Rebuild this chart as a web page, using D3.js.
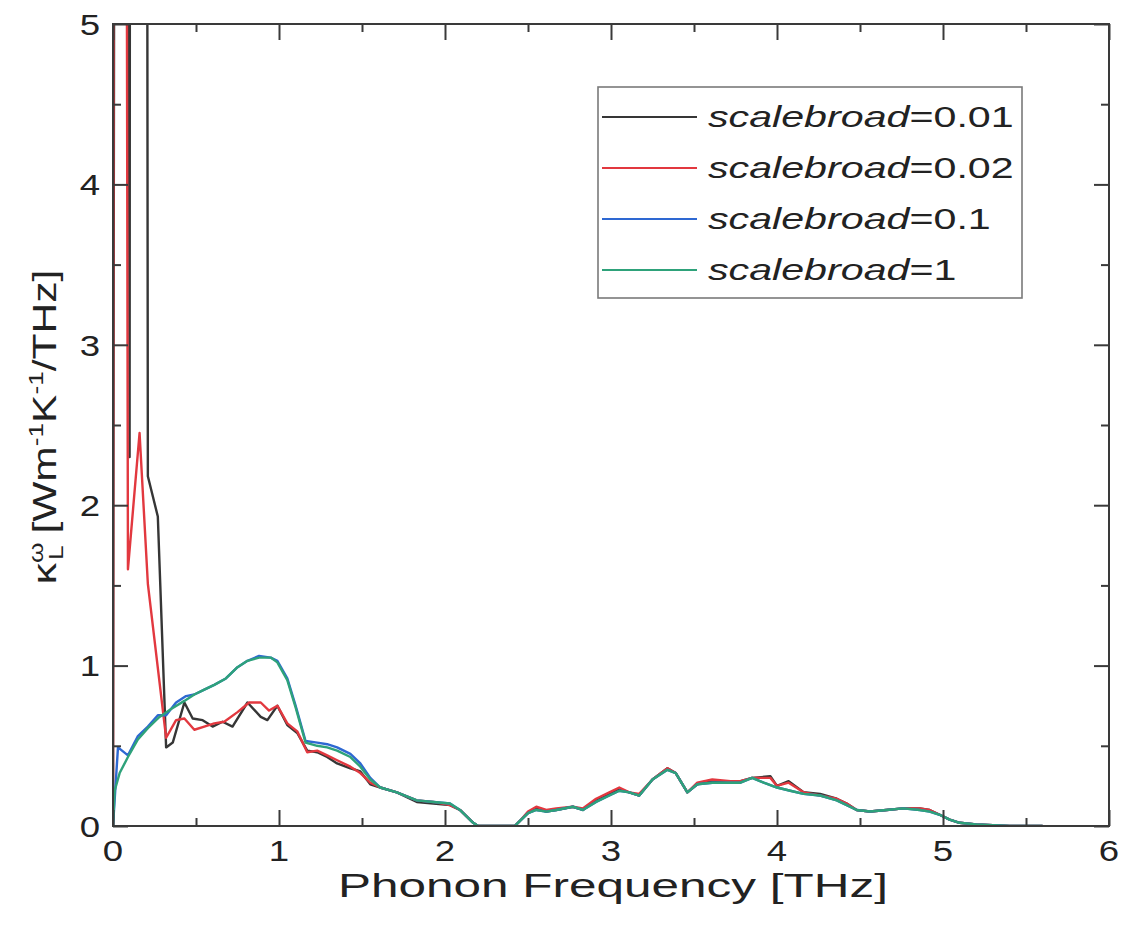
<!DOCTYPE html>
<html>
<head>
<meta charset="utf-8">
<script src="https://cdn.jsdelivr.net/npm/d3@7"></script>
<style>
  body { margin: 0; background: #fff; }
  text { font-family: Arial, "Liberation Sans", Helvetica, sans-serif; fill: #222; }
</style>
</head>
<body>
<svg id="chart" width="1122" height="946"></svg>
<script>
// Spectral lattice thermal conductivity, [frequency (THz), kappa (W m^-1 K^-1 / THz)]
const sb001 = [[0,0],[0.05,40],[0.10,2.3],[0.12,40],[0.17,40],[0.21,2.18],[0.27,1.93],[0.32,0.49],[0.36,0.52],[0.43,0.77],[0.48,0.67],[0.54,0.66],[0.60,0.62],[0.66,0.65],[0.72,0.62],[0.81,0.77],[0.89,0.68],[0.93,0.66],[0.99,0.75],[1.05,0.63],[1.11,0.58],[1.17,0.47],[1.23,0.46],[1.29,0.43],[1.35,0.39],[1.43,0.36],[1.49,0.34],[1.55,0.26],[1.61,0.24],[1.71,0.21],[1.83,0.15],[1.93,0.14],[2.03,0.13],[2.09,0.10],[2.17,0.02],[2.20,0],[2.42,0],[2.45,0.03],[2.50,0.08],[2.55,0.11],[2.61,0.09],[2.67,0.10],[2.77,0.12],[2.83,0.10],[2.91,0.16],[2.99,0.20],[3.05,0.23],[3.11,0.21],[3.17,0.19],[3.25,0.29],[3.34,0.36],[3.39,0.33],[3.46,0.21],[3.52,0.26],[3.61,0.28],[3.72,0.27],[3.78,0.28],[3.85,0.30],[3.96,0.31],[4.00,0.25],[4.07,0.28],[4.16,0.21],[4.26,0.20],[4.36,0.17],[4.42,0.14],[4.48,0.10],[4.56,0.09],[4.66,0.10],[4.76,0.11],[4.86,0.11],[4.92,0.10],[4.98,0.07],[5.04,0.04],[5.10,0.02],[5.20,0.01],[5.40,0],[5.60,0]];

const sb002 = [[0,0],[0.015,30],[0.04,30],[0.09,1.6],[0.16,2.45],[0.21,1.51],[0.32,0.55],[0.38,0.66],[0.43,0.67],[0.49,0.60],[0.55,0.62],[0.61,0.64],[0.67,0.65],[0.75,0.71],[0.82,0.77],[0.89,0.77],[0.94,0.72],[0.99,0.75],[1.05,0.64],[1.11,0.59],[1.17,0.46],[1.23,0.47],[1.29,0.44],[1.35,0.41],[1.43,0.37],[1.49,0.33],[1.55,0.27],[1.61,0.24],[1.71,0.21],[1.83,0.16],[1.93,0.15],[2.03,0.13],[2.09,0.10],[2.17,0.02],[2.20,0],[2.42,0],[2.45,0.03],[2.50,0.09],[2.55,0.12],[2.61,0.10],[2.67,0.11],[2.77,0.12],[2.83,0.11],[2.91,0.17],[2.99,0.21],[3.05,0.24],[3.11,0.21],[3.17,0.20],[3.25,0.29],[3.34,0.36],[3.39,0.33],[3.46,0.21],[3.52,0.27],[3.61,0.29],[3.72,0.28],[3.78,0.28],[3.85,0.30],[3.96,0.30],[4.00,0.25],[4.07,0.27],[4.16,0.21],[4.26,0.19],[4.36,0.17],[4.42,0.14],[4.48,0.10],[4.56,0.09],[4.66,0.10],[4.76,0.11],[4.86,0.11],[4.92,0.10],[4.98,0.07],[5.04,0.04],[5.10,0.02],[5.20,0.01],[5.40,0],[5.60,0]];

const sb01 = [[0,0],[0.03,0.49],[0.09,0.44],[0.15,0.56],[0.21,0.62],[0.27,0.69],[0.32,0.69],[0.38,0.77],[0.44,0.81],[0.49,0.82],[0.55,0.85],[0.61,0.88],[0.68,0.92],[0.75,0.99],[0.81,1.03],[0.88,1.06],[0.95,1.05],[0.99,1.03],[1.05,0.92],[1.10,0.75],[1.16,0.53],[1.23,0.52],[1.29,0.51],[1.35,0.49],[1.43,0.45],[1.49,0.39],[1.55,0.30],[1.61,0.24],[1.71,0.21],[1.83,0.16],[1.93,0.15],[2.03,0.14],[2.09,0.10],[2.17,0.02],[2.20,0],[2.42,0],[2.45,0.03],[2.50,0.08],[2.55,0.10],[2.61,0.09],[2.67,0.10],[2.77,0.12],[2.83,0.10],[2.91,0.15],[2.99,0.19],[3.05,0.22],[3.11,0.21],[3.17,0.19],[3.25,0.29],[3.34,0.35],[3.39,0.33],[3.46,0.21],[3.52,0.26],[3.61,0.27],[3.72,0.27],[3.78,0.27],[3.85,0.30],[3.92,0.27],[4.00,0.24],[4.08,0.22],[4.16,0.20],[4.26,0.19],[4.36,0.16],[4.42,0.13],[4.48,0.10],[4.56,0.09],[4.66,0.10],[4.76,0.11],[4.86,0.10],[4.92,0.09],[4.98,0.07],[5.04,0.04],[5.10,0.02],[5.20,0.01],[5.40,0],[5.60,0]];

const sb1 = [[0,0],[0.01,0.22],[0.04,0.33],[0.09,0.43],[0.15,0.54],[0.21,0.61],[0.28,0.68],[0.35,0.73],[0.43,0.78],[0.49,0.82],[0.55,0.85],[0.61,0.88],[0.68,0.92],[0.75,0.99],[0.81,1.03],[0.88,1.05],[0.95,1.05],[0.99,1.02],[1.05,0.91],[1.10,0.74],[1.16,0.52],[1.23,0.50],[1.29,0.49],[1.35,0.47],[1.43,0.43],[1.49,0.37],[1.55,0.29],[1.61,0.24],[1.71,0.21],[1.83,0.16],[1.93,0.15],[2.03,0.14],[2.09,0.10],[2.17,0.02],[2.20,0],[2.42,0],[2.45,0.03],[2.50,0.08],[2.55,0.10],[2.61,0.09],[2.67,0.10],[2.77,0.12],[2.83,0.10],[2.91,0.15],[2.99,0.19],[3.05,0.22],[3.11,0.21],[3.17,0.19],[3.25,0.29],[3.34,0.35],[3.39,0.33],[3.46,0.21],[3.52,0.26],[3.61,0.27],[3.72,0.27],[3.78,0.27],[3.85,0.30],[3.92,0.27],[4.00,0.24],[4.08,0.22],[4.16,0.20],[4.26,0.19],[4.36,0.16],[4.42,0.13],[4.48,0.10],[4.56,0.09],[4.66,0.10],[4.76,0.11],[4.86,0.10],[4.92,0.09],[4.98,0.07],[5.04,0.04],[5.10,0.02],[5.20,0.01],[5.40,0],[5.60,0]];

const seriesLabels = ["0.01", "0.02", "0.1", "1"];
const seriesColors = ["#363636", "#e2383f", "#2e68d2", "#2ea27a"];
const seriesData = [sb001, sb002, sb01, sb1];

const xTicks = [0, 1, 2, 3, 4, 5, 6];
const xMinorTicks = [0.5, 1.5, 2.5, 3.5, 4.5, 5.5];
const yTicks = [0, 1, 2, 3, 4, 5];
const yMinorTicks = [0.5, 1.5, 2.5, 3.5, 4.5];

const svg = d3.select("#chart");
const plot = { left: 113, top: 24, right: 1109, bottom: 826 };
const x = d3.scaleLinear().domain([0, 6]).range([plot.left, plot.right]);
const y = d3.scaleLinear().domain([0, 5]).range([plot.bottom, plot.top]);
const axisColor = "#3a3a3a";

// clip curves to the axes box
svg.append("defs").append("clipPath").attr("id", "plotClip")
  .append("rect")
  .attr("x", plot.left).attr("y", plot.top)
  .attr("width", plot.right - plot.left).attr("height", plot.bottom - plot.top);

// curves
const line = d3.line().x(d => x(d[0])).y(d => y(d[1]));
const curves = svg.append("g").attr("clip-path", "url(#plotClip)");
seriesData.forEach((data, i) => {
  curves.append("path")
    .datum(data)
    .attr("d", line)
    .attr("fill", "none")
    .attr("stroke", seriesColors[i])
    .attr("stroke-width", 2.4)
    .attr("stroke-linejoin", "round");
});

// inward ticks on all four sides
function styleAxis(g) {
  g.select(".domain").remove();
  g.selectAll(".tick line").attr("stroke", axisColor).attr("stroke-width", 2);
  g.selectAll(".tick text").remove();
}
const majorX = 16, minorX = 8, majorY = 15, minorY = 8;
svg.append("g").attr("transform", `translate(0,${plot.bottom})`)
  .call(d3.axisBottom(x).tickValues(xTicks).tickSizeInner(-majorX).tickSizeOuter(0)).call(styleAxis);
svg.append("g").attr("transform", `translate(0,${plot.bottom})`)
  .call(d3.axisBottom(x).tickValues(xMinorTicks).tickSizeInner(-minorX).tickSizeOuter(0)).call(styleAxis);
svg.append("g").attr("transform", `translate(0,${plot.top})`)
  .call(d3.axisTop(x).tickValues(xTicks).tickSizeInner(-majorX).tickSizeOuter(0)).call(styleAxis);
svg.append("g").attr("transform", `translate(0,${plot.top})`)
  .call(d3.axisTop(x).tickValues(xMinorTicks).tickSizeInner(-minorX).tickSizeOuter(0)).call(styleAxis);
svg.append("g").attr("transform", `translate(${plot.left},0)`)
  .call(d3.axisLeft(y).tickValues(yTicks).tickSizeInner(-majorY).tickSizeOuter(0)).call(styleAxis);
svg.append("g").attr("transform", `translate(${plot.left},0)`)
  .call(d3.axisLeft(y).tickValues(yMinorTicks).tickSizeInner(-minorY).tickSizeOuter(0)).call(styleAxis);
svg.append("g").attr("transform", `translate(${plot.right},0)`)
  .call(d3.axisRight(y).tickValues(yTicks).tickSizeInner(-majorY).tickSizeOuter(0)).call(styleAxis);
svg.append("g").attr("transform", `translate(${plot.right},0)`)
  .call(d3.axisRight(y).tickValues(yMinorTicks).tickSizeInner(-minorY).tickSizeOuter(0)).call(styleAxis);

// axes box
svg.append("rect")
  .attr("x", plot.left).attr("y", plot.top)
  .attr("width", plot.right - plot.left).attr("height", plot.bottom - plot.top)
  .attr("fill", "none").attr("stroke", axisColor).attr("stroke-width", 2);

// tick labels (wide glyphs)
const tickFont = 30, tickStretch = 1.22;
xTicks.forEach(v => {
  svg.append("g").attr("transform", `translate(${x(v)},${plot.bottom + 35}) scale(${tickStretch},1)`)
    .append("text").attr("text-anchor", "middle").attr("font-size", tickFont).text(d3.format("d")(v));
});
yTicks.forEach(v => {
  svg.append("g").attr("transform", `translate(${plot.left - 13},${y(v)}) scale(${tickStretch},1)`)
    .append("text").attr("text-anchor", "end").attr("dy", "0.36em").attr("font-size", tickFont).text(d3.format("d")(v));
});

// x-axis title
svg.append("g").attr("transform", `translate(${(plot.left + plot.right) / 2 + 2},${plot.bottom + 71}) scale(1.5,1)`)
  .append("text").attr("text-anchor", "middle").attr("font-size", 33)
  .text("Phonon Frequency [THz]");

// y-axis title: kappa_L^omega [W m^-1 K^-1 / THz]
const yTitle = svg.append("g")
  .attr("transform", `translate(56,${(plot.top + plot.bottom) / 2 + 2}) rotate(-90) scale(1.25,1)`);
const yt = yTitle.append("text").attr("font-size", 34).attr("text-anchor", "middle");
yt.append("tspan").text("\u03BA");
yt.append("tspan").attr("font-size", 21).attr("dy", -13).text("\u03C9");
yt.append("tspan").attr("font-size", 21).attr("dx", -14).attr("dy", 20).text("L");
yt.append("tspan").attr("dy", -7).text(" [Wm");
yt.append("tspan").attr("font-size", 21).attr("dy", -13).text("-1");
yt.append("tspan").attr("dy", 13).text("K");
yt.append("tspan").attr("font-size", 21).attr("dy", -13).text("-1");
yt.append("tspan").attr("dy", 13).text("/THz]");

// legend
const legend = svg.append("g");
legend.append("rect")
  .attr("x", 598).attr("y", 87).attr("width", 424).attr("height", 211)
  .attr("fill", "#fff").attr("stroke", "#7a7a7a").attr("stroke-width", 1.6);
seriesLabels.forEach((lab, i) => {
  const cy = 117 + i * 51;
  legend.append("line")
    .attr("x1", 602).attr("x2", 697).attr("y1", cy).attr("y2", cy)
    .attr("stroke", seriesColors[i]).attr("stroke-width", 2.2);
  const t = legend.append("g").attr("transform", `translate(708,${cy}) scale(1.42,1)`)
    .append("text").attr("font-size", 29).attr("dy", "0.36em");
  t.append("tspan").attr("font-style", "italic").text("scalebroad");
  t.append("tspan").text("=" + lab);
});
</script>
</body>
</html>
